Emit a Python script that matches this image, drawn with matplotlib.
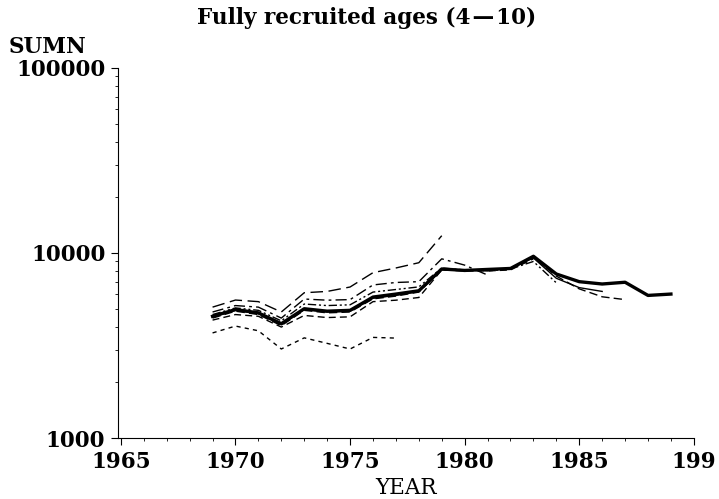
import matplotlib
matplotlib.use("Agg")
import matplotlib.pyplot as plt
from matplotlib.ticker import FixedLocator, NullFormatter

plt.rcParams["font.family"] = "DejaVu Serif"
plt.rcParams["font.weight"] = "bold"

# retrospective runs, each ending one year later
years_77 = list(range(1969, 1978))
sumn_77 = [3700, 4030, 3800, 3030, 3480, 3250, 3030, 3500, 3470]

years_79 = list(range(1969, 1980))
sumn_79 = [5100, 5570, 5460, 4800, 6100, 6200, 6550, 7830, 8300, 8860, 12400]

years_81 = list(range(1969, 1982))
sumn_81 = [4800, 5200, 5100, 4450, 5640, 5560, 5600, 6720, 6930, 7000, 9300, 8600, 7600]

years_83 = list(range(1969, 1984))
sumn_83 = [4340, 4650, 4550, 3980, 4600, 4480, 4520, 5460, 5560, 5750, 8100, 8000,
           8000, 8100, 9300]

years_84 = list(range(1969, 1985))
sumn_84 = [4650, 5050, 4900, 4300, 5300, 5200, 5250, 6150, 6350, 6560, 8300, 8100,
           8000, 8200, 9000, 6900]

years_86 = list(range(1969, 1987))
sumn_86 = [4500, 4900, 4700, 4100, 4950, 4800, 4850, 5700, 5900, 6200, 8100, 8050,
           8100, 8250, 9400, 7300, 6500, 6200]

years_87 = list(range(1969, 1988))
sumn_87 = [4450, 4850, 4650, 4050, 4900, 4750, 4800, 5650, 5850, 6150, 8150, 8050,
           8100, 8200, 9500, 7500, 6400, 5800, 5600]

years_89 = list(range(1969, 1990))
sumn_89 = [4550, 4950, 4750, 4150, 5000, 4850, 4900, 5780, 6000, 6250, 8200, 8050,
           8150, 8250, 9600, 7700, 7000, 6800, 6950, 5900, 6000]

x_ticks = [1965, 1970, 1975, 1980, 1985, 1990]
x_labels = ["1965", "1970", "1975", "1980", "1985", "199"]
y_ticks = [1000, 10000, 100000]
y_labels = ["1000", "10000", "100000"]

fig = plt.figure(figsize=(7.19, 4.99), dpi=100)
ax = fig.add_axes([0.164, 0.122, 0.801, 0.742])

ax.plot(years_77, sumn_77, color="black", lw=1.0, dashes=(3, 3))
ax.plot(years_79, sumn_79, color="black", lw=1.0, dashes=(9, 4))
ax.plot(years_81, sumn_81, color="black", lw=1.0, dashes=(8, 3, 2, 3))
ax.plot(years_83, sumn_83, color="black", lw=1.0, dashes=(5, 3))
ax.plot(years_84, sumn_84, color="black", lw=1.0, dashes=(6, 2, 1.5, 2, 1.5, 2))
ax.plot(years_86, sumn_86, color="black", lw=1.0)
ax.plot(years_87, sumn_87, color="black", lw=1.0, dashes=(6, 3))
ax.plot(years_89, sumn_89, color="black", lw=2.4)

ax.set_yscale("log")
ax.set_ylim(1000, 100000)
ax.set_xlim(1964.87, 1990)

ax.set_xticks(x_ticks)
ax.set_xticklabels(x_labels)
ax.xaxis.set_minor_locator(FixedLocator(range(1965, 1991)))
ax.set_yticks(y_ticks)
ax.set_yticklabels(y_labels)
ax.yaxis.set_minor_formatter(NullFormatter())

ax.tick_params(axis="both", which="major", direction="out", length=5, width=0.8,
               labelsize=15.5, pad=4)
ax.tick_params(axis="both", which="minor", direction="out", length=2.5, width=0.6)

ax.spines["top"].set_visible(False)
ax.spines["right"].set_visible(False)
ax.spines["left"].set_linewidth(0.8)
ax.spines["bottom"].set_linewidth(0.8)

ax.set_xlabel("YEAR", fontsize=15.5, labelpad=3)
fig.text(0.012, 0.905, "SUMN", fontsize=15.5, va="center", ha="left")
fig.text(0.51, 0.964, "Fully recruited ages (4\u200a\u2014\u200a10)", fontsize=15.5,
         ha="center", va="center")

fig.savefig("out.png", dpi=100)
